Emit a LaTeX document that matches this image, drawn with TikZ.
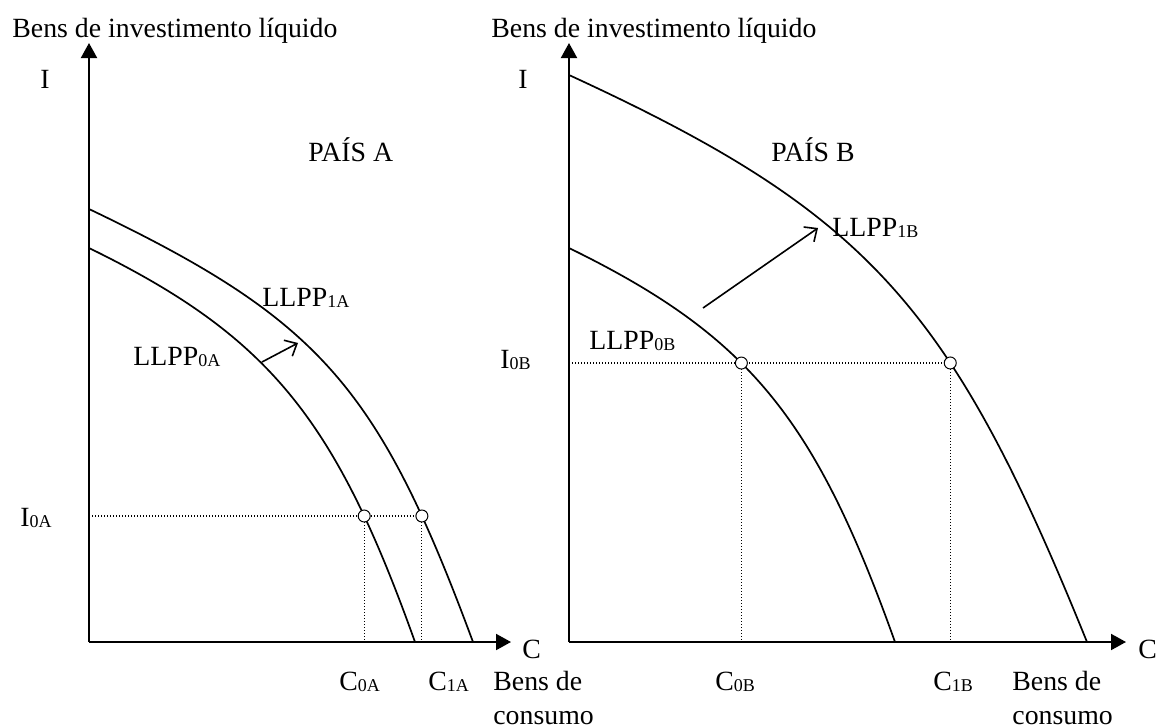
\documentclass[tikz,border=0pt]{standalone}
\usepackage{fontspec}
\setmainfont{Liberation Serif}
\usetikzlibrary{arrows.meta,intersections}
\newcommand\sbs[1]{\raisebox{-0.9pt}{\fontsize{9}{10}\selectfont #1}}
\begin{document}
\begin{tikzpicture}[x=0.5pt,y=-0.5pt,
  font=\fontsize{13.9}{17}\selectfont,
  txt/.style={anchor=base west,inner sep=0pt},
  axis/.style={line width=1pt,-{Triangle[length=7.5pt,width=8pt]}},
  curve/.style={line width=0.85pt},
  dots/.style={line width=0.6pt,dash pattern=on 0.6pt off 0.9pt},
  shift arrow/.style={line width=0.8pt,-{Straight Barb[length=5pt,width=9pt]}},
  pt/.style={circle,draw,fill=white,inner sep=0pt,minimum size=6pt,line width=0.5pt}]
\useasboundingbox (0,0) rectangle (1158,728);
% axes
\coordinate (oA) at (89,642);
\coordinate (tA) at (89,43);
\coordinate (xA) at (511,642);
\coordinate (oB) at (569,642);
\coordinate (tB) at (569,43);
\coordinate (xB) at (1126,642);
\draw[axis] (oA) -- (tA);
\draw[axis] (oA) -- (xA);
\draw[axis] (oB) -- (tB);
\draw[axis] (oB) -- (xB);
% curves
\draw[curve,name path=L0A] (89,248) .. controls (269,336) and (335,418) .. (415,642);
\draw[curve,name path=L1A] (89,209) .. controls (319,319) and (378,385.5) .. (473,642);
\draw[curve,name path=L0B] (569,248) .. controls (749,336) and (815,418) .. (895,642);
\draw[curve,name path=L1B] (569,75) .. controls (869,213) and (951,306) .. (1087,642);
% levels
\path[name path=hA] (89,516) -- (520,516);
\path[name path=hB] (569,363) -- (1130,363);
\path[name intersections={of=L0A and hA,by=p0A}];
\path[name intersections={of=L1A and hA,by=p1A}];
\path[name intersections={of=L0B and hB,by=p0B}];
\path[name intersections={of=L1B and hB,by=p1B}];
\draw[dots] (oA |- p1A) -- (p1A);
\draw[dots] (p0A) -- (p0A |- oA);
\draw[dots] (p1A) -- (p1A |- oA);
\draw[dots] (oB |- p1B) -- (p1B);
\draw[dots] (p0B) -- (p0B |- oB);
\draw[dots] (p1B) -- (p1B |- oB);
\node[pt] (c0A) at (p0A) {};
\node[pt] (c1A) at (p1A) {};
\node[pt] (c0B) at (p0B) {};
\node[pt] (c1B) at (p1B) {};
% shift arrows
\coordinate (aA1) at (262,362);
\coordinate (aA2) at (298,343);
\coordinate (aB1) at (703,308);
\coordinate (aB2) at (818,228);
\draw[shift arrow] (aA1) -- (aA2);
\draw[shift arrow] (aB1) -- (aB2);
% texts
\node[txt] (yA) at (12,37) {Bens de investimento líquido};
\node[txt] (yB) at (491,37) {Bens de investimento líquido};
\node[txt] (IA) at (40,88) {I};
\node[txt] (IB) at (518,88) {I};
\node[txt] (pA) at (308,161) {PAÍS A};
\node[txt] (pB) at (771,161) {PAÍS B};
\node[txt] (l1A) at (262,306) {LLPP\sbs{1A}};
\node[txt] (l0A) at (133,365) {LLPP\sbs{0A}};
\node[txt] (l0B) at (589,349) {LLPP\sbs{0B}};
\node[txt] (l1B) at (832,236) {LLPP\sbs{1B}};
\node[txt] (iA) at (20,526) {I\sbs{0A}};
\node[txt] (iB) at (500,368) {I\sbs{0B}};
\node[txt] (cA0) at (339,690) {C\sbs{0A}};
\node[txt] (cA1) at (428,690) {C\sbs{1A}};
\node[txt] (cB0) at (715,690) {C\sbs{0B}};
\node[txt] (cB1) at (933,690) {C\sbs{1B}};
\node[txt] (CA) at (522,658) {C};
\node[txt] (CB) at (1138,658) {C};
\node[anchor=north west,inner sep=0pt,align=left] (bA) at (493,671) {Bens de\\consumo};
\node[anchor=north west,inner sep=0pt,align=left] (bB) at (1012,671) {Bens de\\consumo};
\end{tikzpicture}
\end{document}
